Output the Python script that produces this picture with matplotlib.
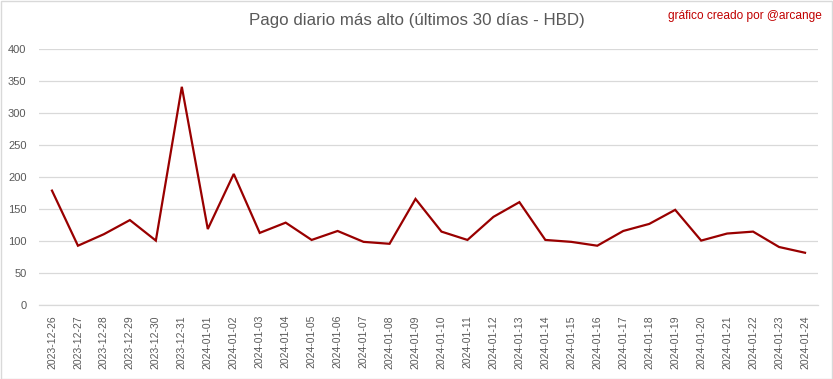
import matplotlib.pyplot as plt
from matplotlib.patches import Rectangle

dates = [
    "2023-12-26", "2023-12-27", "2023-12-28", "2023-12-29", "2023-12-30",
    "2023-12-31", "2024-01-01", "2024-01-02", "2024-01-03", "2024-01-04",
    "2024-01-05", "2024-01-06", "2024-01-07", "2024-01-08", "2024-01-09",
    "2024-01-10", "2024-01-11", "2024-01-12", "2024-01-13", "2024-01-14",
    "2024-01-15", "2024-01-16", "2024-01-17", "2024-01-18", "2024-01-19",
    "2024-01-20", "2024-01-21", "2024-01-22", "2024-01-23", "2024-01-24",
]
payout = [
    179, 93, 111, 133, 101, 341, 119, 205, 113, 129,
    102, 116, 99, 96, 166, 115, 102, 138, 161, 102,
    99, 93, 116, 127, 149, 101, 112, 115, 91, 82,
]
y_ticks = [0, 50, 100, 150, 200, 250, 300, 350, 400]

GRAY = "#595959"
GRID = "#D9D9D9"

plt.rcParams["font.family"] = ["Liberation Sans", "DejaVu Sans"]

fig = plt.figure(figsize=(8.33, 3.79), dpi=100)
ax = fig.add_axes([39 / 833, 1 - 305.3 / 379, 779 / 833, 256.3 / 379])

x = list(range(len(dates)))
ax.plot(x, payout, color="#990000", linewidth=1.6, solid_joinstyle="miter")

ax.set_xlim(-0.5, len(dates) - 0.5)
ax.set_ylim(0, 400)
ax.set_yticks(y_ticks)
ax.set_xticks(x)
ax.set_xticklabels(dates, rotation=90)
ax.tick_params(axis="both", length=0, labelsize=7.5, labelcolor=GRAY)
ax.tick_params(axis="y", labelsize=8, pad=9)
ax.tick_params(axis="x", pad=7)
ax.grid(axis="y", color=GRID, linewidth=0.9)
ax.set_axisbelow(True)
for side in ("top", "left", "right"):
    ax.spines[side].set_visible(False)
ax.spines["bottom"].set_color(GRID)
ax.spines["bottom"].set_linewidth(0.9)

fig.text(0.5, 1 - 21 / 379, "Pago diario más alto (últimos 30 días - HBD)",
         ha="center", va="center", fontsize=12.2, color=GRAY)
fig.text(822 / 833, 1 - 16 / 379, "gráfico creado por @arcange",
         ha="right", va="center", fontsize=8.6, color="#C00000")

fig.patches.append(Rectangle((0.5 / 833, 0.5 / 379), 1 - 1.5 / 833, 1 - 1.5 / 379,
                             transform=fig.transFigure, fill=False,
                             edgecolor=GRID, linewidth=1))

fig.savefig("out.png", dpi=100)
